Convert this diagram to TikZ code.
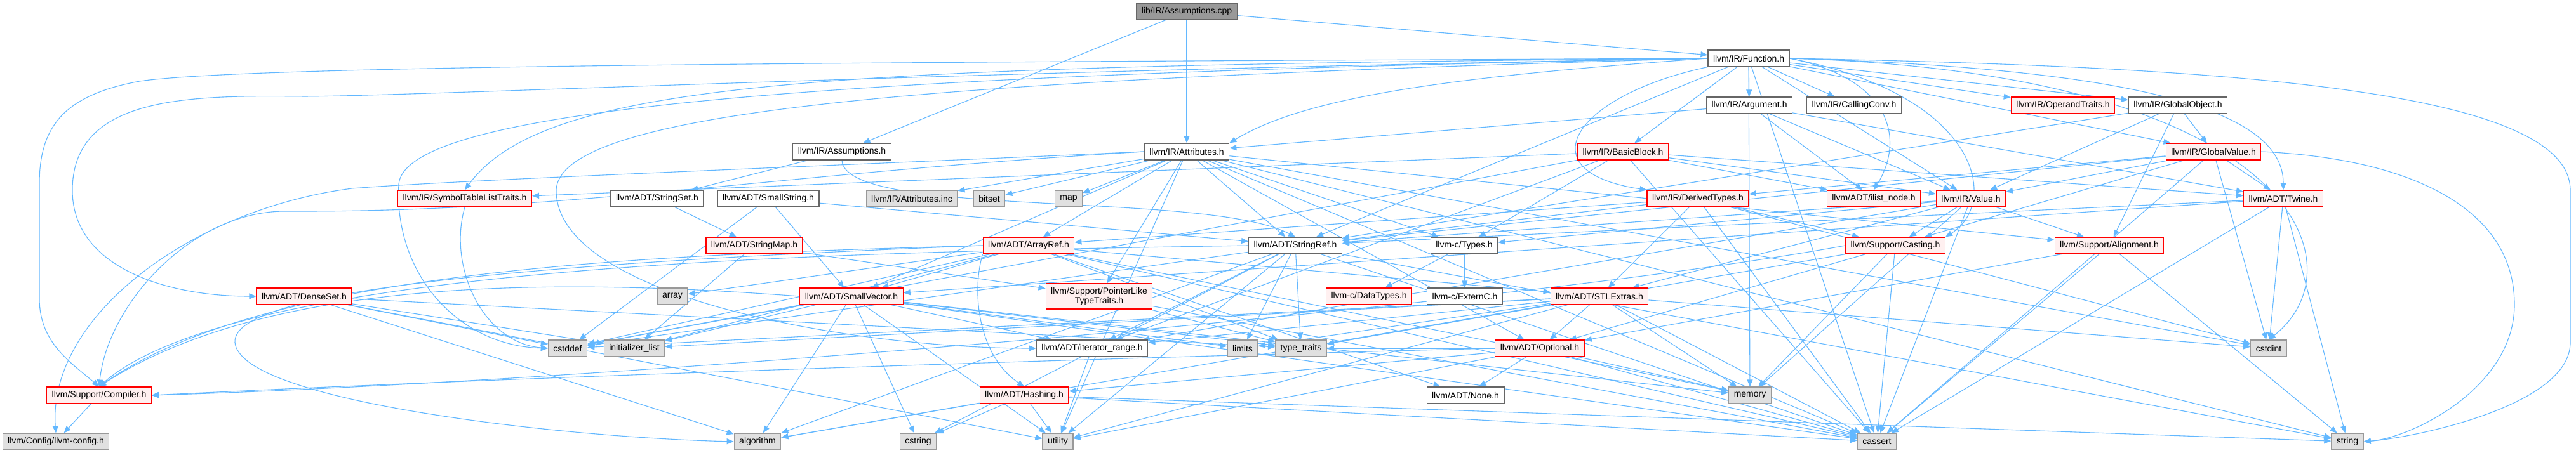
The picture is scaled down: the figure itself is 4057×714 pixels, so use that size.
\documentclass[tikz,border=0pt]{standalone}
\usepackage{fontspec}
\setmainfont{Liberation Sans}
\usetikzlibrary{arrows.meta,backgrounds}

\definecolor{edgeblue}{RGB}{99,184,255}
\definecolor{hdrline}{RGB}{102,102,102}
\definecolor{truncline}{RGB}{255,0,0}
\definecolor{truncfill}{RGB}{255,240,240}
\definecolor{sysline}{RGB}{153,153,153}
\definecolor{sysfill}{RGB}{224,224,224}
\definecolor{srcfill}{RGB}{153,153,153}

\begin{document}
\begin{tikzpicture}[x=1pt,y=-1pt,
  every node/.style={font=\fontsize{14}{15}\selectfont,inner xsep=8pt,inner ysep=0pt,minimum height=26pt,line width=1.2pt},
  hdr/.style={draw=hdrline,fill=white},
  trunc/.style={draw=truncline,fill=truncfill},
  sys/.style={draw=sysline,fill=sysfill},
  src/.style={draw=hdrline,fill=srcfill},
  incl/.style={draw=edgeblue,line width=1.1pt,-{Triangle[length=11pt,width=9pt]}}]
  \useasboundingbox (0,0) rectangle (4057,714);

  % files, one row per rank
  \node[src] (cpp) at (1869,18) {lib/IR/Assumptions.cpp};
  \node[hdr] (function) at (2754,92) {llvm/IR/Function.h};

  \node[hdr] (argument) at (2755,166) {llvm/IR/Argument.h};
  \node[hdr] (callingconv) at (2920,166) {llvm/IR/CallingConv.h};
  \node[trunc] (operandtraits) at (3249,166) {llvm/IR/OperandTraits.h};
  \node[hdr] (globalobject) at (3430,166) {llvm/IR/GlobalObject.h};

  \node[hdr] (assumptionsh) at (1326,239) {llvm/IR/Assumptions.h};
  \node[hdr] (attributes) at (1869,239) {llvm/IR/Attributes.h};
  \node[trunc] (basicblock) at (2556,239) {llvm/IR/BasicBlock.h};
  \node[trunc] (globalvalue) at (3486,239) {llvm/IR/GlobalValue.h};

  \node[trunc] (symtab) at (732,313) {llvm/IR/SymbolTableListTraits.h};
  \node[hdr] (stringset) at (1035,313) {llvm/ADT/StringSet.h};
  \node[hdr] (smallstring) at (1210,313) {llvm/ADT/SmallString.h};
  \node[sys] (attrinc) at (1436,313) {llvm/IR/Attributes.inc};
  \node[sys] (bitset) at (1558,313) {bitset};
  \node[sys] (map) at (1683,313) {map};
  \node[trunc] (derivedtypes) at (2674,313) {llvm/IR/DerivedTypes.h};
  \node[trunc] (ilistnode) at (2951,313) {llvm/ADT/ilist\_node.h};
  \node[trunc] (value) at (3104,313) {llvm/IR/Value.h};
  \node[trunc] (twine) at (3596,313) {llvm/ADT/Twine.h};

  \node[trunc] (stringmap) at (1188,387) {llvm/ADT/StringMap.h};
  \node[trunc] (arrayref) at (1620,387) {llvm/ADT/ArrayRef.h};
  \node[hdr] (stringref) at (2040,387) {llvm/ADT/StringRef.h};
  \node[hdr] (ctypes) at (2306,387) {llvm-c/Types.h};
  \node[trunc] (casting) at (2985,387) {llvm/Support/Casting.h};
  \node[trunc] (alignment) at (3322,387) {llvm/Support/Alignment.h};

  \node[trunc] (denseset) at (479,467) {llvm/ADT/DenseSet.h};
  \node[sys] (array) at (1059,467) {array};
  \node[trunc] (smallvector) at (1341,467) {llvm/ADT/SmallVector.h};
  \node[trunc,align=center,minimum height=40pt] (pointerlike) at (1731,467) {llvm/Support/PointerLike\\TypeTraits.h};
  \node[trunc] (datatypes) at (2156,467) {llvm-c/DataTypes.h};
  \node[hdr] (externc) at (2307,467) {llvm-c/ExternC.h};
  \node[trunc] (stlextras) at (2519,467) {llvm/ADT/STLExtras.h};

  \node[sys] (cstddef) at (894,549) {cstddef};
  \node[sys] (initlist) at (999,549) {initializer\_list};
  \node[hdr] (iterrange) at (1720,549) {llvm/ADT/iterator\_range.h};
  \node[sys] (limits) at (1957,549) {limits};
  \node[sys] (typetraits) at (2049,549) {type\_traits};
  \node[trunc] (optional) at (2425,549) {llvm/ADT/Optional.h};
  \node[sys] (cstdint) at (3573,549) {cstdint};

  \node[trunc] (compiler) at (156,623) {llvm/Support/Compiler.h};
  \node[trunc] (hashing) at (1613,623) {llvm/ADT/Hashing.h};
  \node[hdr] (none) at (2308,623) {llvm/ADT/None.h};
  \node[sys] (memory) at (2756,623) {memory};

  \node[sys] (llvmconfig) at (88,696) {llvm/Config/llvm-config.h};
  \node[sys] (algorithm) at (1193,696) {algorithm};
  \node[sys] (cstring) at (1446,696) {cstring};
  \node[sys] (utility) at (1666,696) {utility};
  \node[sys] (cassert) at (2956,696) {cassert};
  \node[sys] (string) at (3697,696) {string};

  \begin{scope}[on background layer]
  \fill[white] (0,0) rectangle (4057,714);

  % lib/IR/Assumptions.cpp
  \draw[incl] (cpp) -- (assumptionsh);
  \draw[incl] (cpp) -- (attributes);
  \draw[incl] (cpp) -- (function);

  % llvm/IR/Function.h
  \draw[incl] (function) -- (argument);
  \draw[incl] (function) -- (callingconv);
  \draw[incl] (function) -- (operandtraits);
  \draw[incl] (function) -- (globalobject);
  \draw[incl] (function) -- (globalvalue);
  \draw[incl] (function) -- (basicblock);
  \draw[incl] (function.west) .. controls (2300,120) and (2060,150) .. (attributes.north east);
  \draw[incl] (function) -- (stringref);
  \draw[incl] (function) -- (value);
  \draw[incl] (function) -- (memory);
  \draw[incl] (function) -- (cassert);
  \draw[incl] (function.south west) .. controls (2480,150) and (2400,270) .. (derivedtypes.north west);
  \draw[incl] (function.east) .. controls (3350,108) and (3596,170) .. (twine.north);
  \draw[incl] (function.east) .. controls (2980,125) and (3000,220) .. (ilistnode.north);
  \draw[incl] (function.east) .. controls (3120,150) and (3150,320) .. (casting.north east);
  \draw[incl] (function.east) .. controls (3620,115) and (3720,420) .. (cstdint.north);
  \draw[incl] (function.east) .. controls (3500,105) and (4048,140) .. (4048,300) -- (4048,540) .. controls (4048,640) and (3800,690) .. (string.east);
  \draw[incl] (function.west) .. controls (1300,104) and (860,125) .. (symtab.north);
  \draw[incl] (function.west) .. controls (1400,98) and (400,102) .. (220,128) .. controls (100,150) and (62,200) .. (62,290) -- (62,470) .. controls (62,540) and (110,570) .. (compiler.north);
  \draw[incl] (function.west) .. controls (1500,112) and (700,150) .. (480,152) .. controls (300,150) and (114,150) .. (114,300) .. controls (114,420) and (260,467) .. (denseset.west);
  \draw[incl] (function.west) .. controls (1300,118) and (640,170) .. (628,290) .. controls (620,430) and (720,545) .. (cstddef.west);
  \draw[incl] (function.west) .. controls (1500,125) and (880,170) .. (876,300) .. controls (876,470) and (1350,549) .. (iterrange.west);

  % llvm/IR/Argument.h
  \draw[incl] (argument) -- (attributes);
  \draw[incl] (argument) -- (ilistnode);
  \draw[incl] (argument) -- (value);
  \draw[incl] (argument) -- (twine);

  % llvm/IR/GlobalObject.h
  \draw[incl] (globalobject) -- (globalvalue);
  \draw[incl] (globalobject) -- (value);
  \draw[incl] (globalobject) -- (alignment);
  \draw[incl] (globalobject) -- (stringref);

  % llvm/IR/Assumptions.h
  \draw[incl] (assumptionsh) -- (stringset);
  \draw[incl] (assumptionsh.south) .. controls (1330,345) and (1900,300) .. (stringref.north);

  % llvm/IR/Attributes.h
  \draw[incl] (attributes) -- (attrinc);
  \draw[incl] (attributes) -- (bitset);
  \draw[incl] (attributes) -- (map);
  \draw[incl] (attributes) -- (ctypes);
  \draw[incl] (attributes) -- (arrayref);
  \draw[incl] (attributes) -- (smallvector);
  \draw[incl] (attributes) -- (stringref);
  \draw[incl] (attributes) -- (alignment);
  \draw[incl] (attributes) -- (pointerlike);
  \draw[incl] (attributes) -- (optional);
  \draw[incl] (attributes) -- (cassert);
  \draw[incl] (attributes) -- (cstdint);
  \draw[incl] (attributes) -- (string);
  \draw[incl] (attributes) -- (utility);
  \draw[incl] (attributes.west) .. controls (1200,275) and (900,335) .. (446,333) .. controls (300,335) and (170,480) .. (compiler.north);
  \draw[incl] (attributes.west) .. controls (1300,262) and (750,282) .. (554,297) .. controls (300,330) and (75,500) .. (llvmconfig.north);

  % llvm/IR/BasicBlock.h
  \draw[incl] (basicblock) -- (ctypes);
  \draw[incl] (basicblock) -- (twine);
  \draw[incl] (basicblock) -- (ilistnode);
  \draw[incl] (basicblock) -- (iterrange);
  \draw[incl] (basicblock) -- (symtab);
  \draw[incl] (basicblock) -- (value);
  \draw[incl] (basicblock) -- (cassert);
  \draw[incl] (basicblock) -- (cstddef);

  % llvm/IR/GlobalValue.h
  \draw[incl] (globalvalue) -- (stringref);
  \draw[incl] (globalvalue) -- (twine);
  \draw[incl] (globalvalue) -- (derivedtypes);
  \draw[incl] (globalvalue) -- (value);
  \draw[incl] (globalvalue) -- (casting);
  \draw[incl] (globalvalue) -- (cassert);
  \draw[incl] (globalvalue) -- (cstdint);
  \draw[incl] (globalvalue.east) .. controls (3800,250) and (3960,330) .. (3960,480) .. controls (3960,610) and (3800,690) .. (string.east);

  % third rank
  \draw[incl] (symtab.south) .. controls (705,420) and (760,540) .. (cstddef.west);
  \draw[incl] (stringset) -- (stringmap);
  \draw[incl] (smallstring) -- (smallvector);
  \draw[incl] (smallstring) -- (stringref);
  \draw[incl] (smallstring) -- (cstddef);
  \draw[incl] (derivedtypes) -- (arrayref);
  \draw[incl] (derivedtypes) -- (stlextras);
  \draw[incl] (derivedtypes) -- (stringref);
  \draw[incl] (derivedtypes) -- (casting);
  \draw[incl] (derivedtypes) -- (cassert);
  \draw[incl] (derivedtypes) -- (cstdint);
  \draw[incl] (value) -- (ctypes);
  \draw[incl] (value) -- (stlextras);
  \draw[incl] (value) -- (stringref);
  \draw[incl] (value) -- (iterrange);
  \draw[incl] (value) -- (alignment);
  \draw[incl] (value) -- (casting);
  \draw[incl] (value) -- (cassert);
  \draw[incl] (value) -- (memory);
  \draw[incl] (twine) -- (smallvector);
  \draw[incl] (twine) -- (stringref);
  \draw[incl] (twine) -- (cassert);
  \draw[incl] (twine) -- (cstdint);
  \draw[incl] (twine) -- (string);

  % fourth rank
  \draw[incl] (stringmap) -- (pointerlike);
  \draw[incl] (stringmap) -- (initlist);
  \draw[incl] (arrayref) -- (smallvector);
  \draw[incl] (arrayref) -- (stlextras);
  \draw[incl] (arrayref) -- (array);
  \draw[incl] (arrayref) -- (cassert);
  \draw[incl] (arrayref) -- (cstddef);
  \draw[incl] (arrayref) -- (initlist);
  \draw[incl] (arrayref) -- (memory);
  \draw[incl] (arrayref) -- (typetraits);
  \draw[incl] (arrayref) -- (none);
  \draw[incl] (arrayref.south west) .. controls (1530,460) and (1540,560) .. (hashing.north);
  \draw[incl] (arrayref.west) .. controls (1000,402) and (420,425) .. (compiler.north);
  \draw[incl] (arrayref.west) .. controls (700,420) and (300,470) .. (380,560) .. controls (450,640) and (900,690) .. (algorithm.west);
  \draw[incl] (stringref) -- (iterrange);
  \draw[incl] (stringref) -- (algorithm);
  \draw[incl] (stringref) -- (cassert);
  \draw[incl] (stringref) -- (cstddef);
  \draw[incl] (stringref) -- (cstring);
  \draw[incl] (stringref) -- (limits);
  \draw[incl] (stringref) -- (string);
  \draw[incl] (stringref) -- (typetraits);
  \draw[incl] (stringref) -- (utility);
  \draw[incl] (stringref.west) .. controls (1300,398) and (380,415) .. (compiler.north);
  \draw[incl] (ctypes) -- (datatypes);
  \draw[incl] (ctypes) -- (externc);
  \draw[incl] (casting) -- (optional);
  \draw[incl] (casting) -- (typetraits);
  \draw[incl] (casting) -- (memory);
  \draw[incl] (casting) -- (cassert);
  \draw[incl] (casting.west) .. controls (2400,480) and (1000,600) .. (compiler.east);
  \draw[incl] (alignment) -- (optional);
  \draw[incl] (alignment) -- (cassert);
  \draw[incl] (alignment) -- (string);

  % fifth rank
  \draw[incl] (denseset) -- (cstddef);
  \draw[incl] (denseset) -- (initlist);
  \draw[incl] (denseset) -- (algorithm);
  \draw[incl] (denseset) -- (utility);
  \draw[incl] (denseset) -- (typetraits);
  \draw[incl] (smallvector) -- (iterrange);
  \draw[incl] (smallvector) -- (algorithm);
  \draw[incl] (smallvector) -- (cassert);
  \draw[incl] (smallvector) -- (cstddef);
  \draw[incl] (smallvector) -- (cstring);
  \draw[incl] (smallvector) -- (initlist);
  \draw[incl] (smallvector) -- (limits);
  \draw[incl] (smallvector) -- (memory);
  \draw[incl] (smallvector) -- (typetraits);
  \draw[incl] (smallvector) -- (utility);
  \draw[incl] (smallvector.west) .. controls (900,440) and (430,432) .. (compiler.north);
  \draw[incl] (pointerlike) -- (typetraits);
  \draw[incl] (pointerlike) -- (cassert);
  \draw[incl] (stlextras) -- (optional);
  \draw[incl] (stlextras) -- (iterrange);
  \draw[incl] (stlextras) -- (algorithm);
  \draw[incl] (stlextras) -- (cassert);
  \draw[incl] (stlextras) -- (cstddef);
  \draw[incl] (stlextras) -- (cstdint);
  \draw[incl] (stlextras) -- (initlist);
  \draw[incl] (stlextras) -- (limits);
  \draw[incl] (stlextras) -- (memory);
  \draw[incl] (stlextras) -- (typetraits);
  \draw[incl] (stlextras) -- (utility);

  % lower ranks
  \draw[incl] (optional) -- (none);
  \draw[incl] (optional) -- (hashing);
  \draw[incl] (optional) -- (cassert);
  \draw[incl] (optional) -- (memory);
  \draw[incl] (optional) -- (utility);
  \draw[incl] (optional) -- (typetraits);
  \draw[incl] (optional.west) .. controls (1900,560) and (900,590) .. (compiler.east);
  \draw[incl] (iterrange) -- (utility);
  \draw[incl] (compiler) -- (llvmconfig);
  \draw[incl] (hashing) -- (algorithm);
  \draw[incl] (hashing) -- (cassert);
  \draw[incl] (hashing) -- (cstring);
  \draw[incl] (hashing) -- (string);
  \draw[incl] (hashing) -- (utility);
  \end{scope}
\end{tikzpicture}
\end{document}
